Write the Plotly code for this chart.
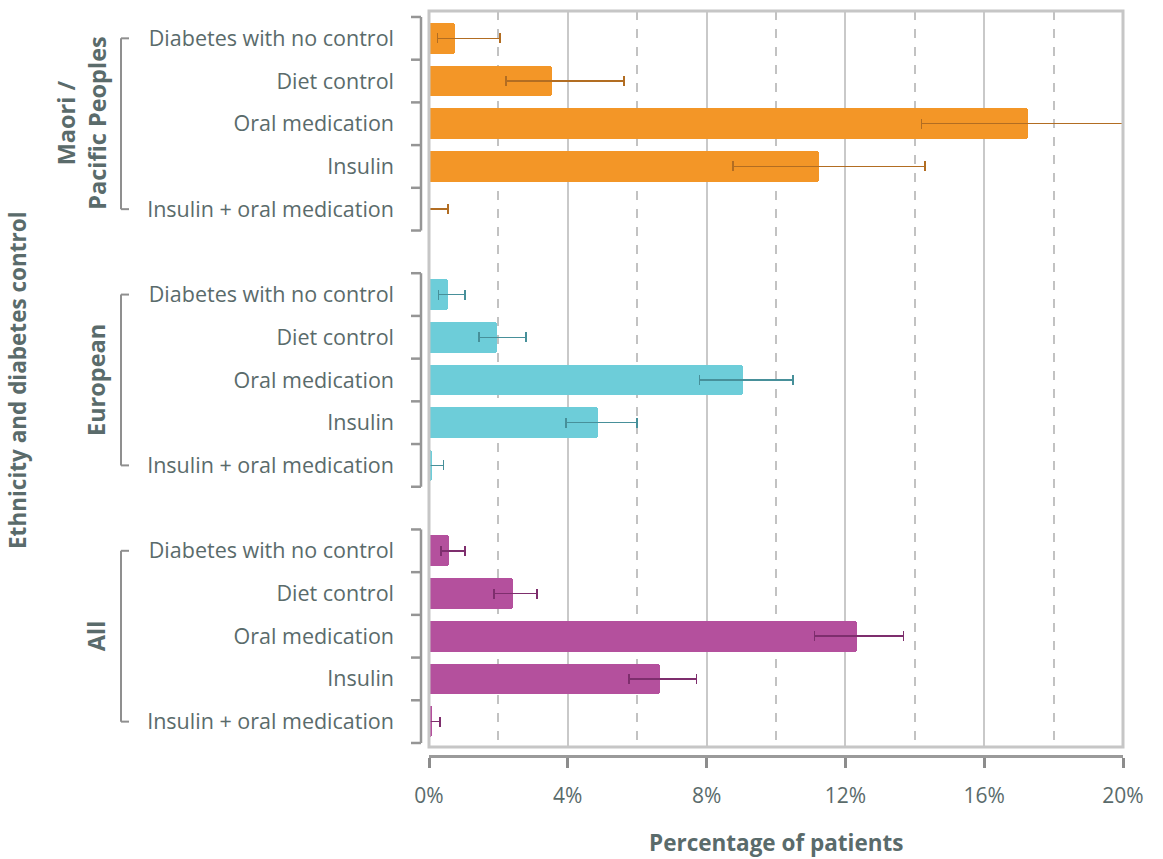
import plotly.graph_objects as go

# Diabetes control categories (top to bottom inside each group)
categories = ["Diabetes with no control", "Diet control", "Oral medication",
              "Insulin", "Insulin + oral medication"]
groups = ["Maori /<br>Pacific Peoples", "European", "All"]

# Percentage of patients, with lower / upper confidence limits
maori_val = [0.75, 3.54, 17.26, 11.24, 0.0]
maori_lo = [0.25, 2.22, 14.2, 8.76, 0.0]
maori_hi = [2.05, 5.62, 20.05, 14.3, 0.55]

european_val = [0.55, 1.96, 9.05, 4.86, 0.09]
european_lo = [0.27, 1.44, 7.8, 3.95, 0.02]
european_hi = [1.04, 2.8, 10.49, 5.99, 0.42]

all_val = [0.58, 2.42, 12.32, 6.65, 0.08]
all_lo = [0.35, 1.87, 11.11, 5.76, 0.02]
all_hi = [1.04, 3.11, 13.67, 7.71, 0.32]

x_ticks = [0, 4, 8, 12, 16, 20]
x_ticktext = ["0%", "4%", "8%", "12%", "16%", "20%"]

series = [
    (maori_val, maori_lo, maori_hi, "#F39627", "#B26D22"),
    (european_val, european_lo, european_hi, "#6DCDD9", "#47909A"),
    (all_val, all_lo, all_hi, "#B4509D", "#7E2E6D"),
]

TEXT = "#5A6B6B"
FONT = "Open Sans"
N_SLOTS = 17          # 3 groups of 5 rows plus a blank row between groups
STEP = 6
Y_TOP, Y_BOT = -0.64, 16.594   # a little padding inside the frame

# plot geometry (pixels)
W, H = 1163, 859
L, R, T, B = 429, 40, 11, 103
AXIS_GAP = 9          # x axis sits a little below the plot frame
PH = H - T - B
y_dom0 = AXIS_GAP / PH


def px_x(px):
    return (px - L) / (W - L - R)


def slot_y(s):
    # paper y for a (fractional) row slot on the reversed numeric y axis
    return y_dom0 + (1 - y_dom0) * (Y_BOT - s) / (Y_BOT - Y_TOP)


fig = go.Figure()

tickvals, ticktext = [], []
for g, (vals, lo, hi, col, ecol) in enumerate(series):
    ys = [g * STEP + i for i in range(len(categories))]
    tickvals += ys
    ticktext += categories
    fig.add_trace(go.Bar(
        x=vals, y=ys, orientation="h", width=0.72,
        marker=dict(color=col, line=dict(width=0), cornerradius=3),
        error_x=dict(type="data", symmetric=False,
                     array=[h - v for h, v in zip(hi, vals)],
                     arrayminus=[v - l for v, l in zip(vals, lo)],
                     color=ecol, thickness=1.5, width=5),
        showlegend=False, hoverinfo="x+y",
    ))

shapes = []
# plot frame
shapes.append(dict(type="rect", xref="x domain", yref="y domain",
                   x0=0, x1=1, y0=0, y1=1, line=dict(color="#C6C6C6", width=3),
                   layer="above"))

axis_col = "#959595"
for g in range(len(groups)):
    top, bot = g * STEP - 0.5, g * STEP + len(categories) - 0.5
    # per-group y axis segment with ticks between rows
    shapes.append(dict(type="line", xref="paper", yref="paper",
                       x0=px_x(421), x1=px_x(421), y0=slot_y(top), y1=slot_y(bot),
                       line=dict(color=axis_col, width=2.5)))
    for k in range(len(categories) + 1):
        yb = slot_y(top + k)
        shapes.append(dict(type="line", xref="paper", yref="paper",
                           x0=px_x(411), x1=px_x(421), y0=yb, y1=yb,
                           line=dict(color=axis_col, width=2.5)))
    # group bracket
    c0, c1 = g * STEP, g * STEP + len(categories) - 1
    bx, arm = px_x(121), px_x(129)
    shapes.append(dict(type="line", xref="paper", yref="paper",
                       x0=bx, x1=bx, y0=slot_y(c0), y1=slot_y(c1),
                       line=dict(color="#8F8F8F", width=2)))
    for c in (c0, c1):
        shapes.append(dict(type="line", xref="paper", yref="paper",
                           x0=bx, x1=arm, y0=slot_y(c), y1=slot_y(c),
                           line=dict(color="#8F8F8F", width=2)))

annotations = []
group_x = [82, 96, 96]
for g, name in enumerate(groups):
    annotations.append(dict(
        text=f"<b>{name}</b>", xref="paper", yref="paper",
        x=px_x(group_x[g]), y=slot_y(g * STEP + 2), xanchor="center", yanchor="middle",
        textangle=-90, showarrow=False, font=dict(family=FONT, size=23.5, color=TEXT)))

annotations.append(dict(
    text="<b>Ethnicity and diabetes control</b>", xref="paper", yref="paper",
    x=px_x(18), y=slot_y(8), xanchor="center", yanchor="middle", textangle=-90,
    showarrow=False, font=dict(family=FONT, size=22.5, color=TEXT)))

annotations.append(dict(
    text="<b>Percentage of patients</b>", xref="paper", yref="paper",
    x=0.5, y=-(843 - (H - B)) / PH, xanchor="center", yanchor="middle",
    showarrow=False, font=dict(family=FONT, size=22.5, color=TEXT)))

fig.update_layout(
    width=W, height=H,
    margin=dict(l=L, r=R, t=T, b=B, pad=0),
    paper_bgcolor="white", plot_bgcolor="white",
    bargap=0, barmode="overlay",
    shapes=shapes, annotations=annotations,
    font=dict(family=FONT, color=TEXT),
    xaxis=dict(
        range=[0, 20], tickvals=x_ticks, ticktext=x_ticktext,
        anchor="free", position=0,
        showline=True, linecolor="#9A9A9A", linewidth=3,
        ticks="outside", ticklen=10, tickwidth=2.5, tickcolor="#8C8C8C",
        tickfont=dict(family=FONT, size=21, color=TEXT),
        ticklabelstandoff=10,
        showgrid=True, gridcolor="#C9C9C9", gridwidth=2,
        minor=dict(dtick=2, tick0=0, showgrid=True, griddash="dash",
                   gridcolor="#C2C2C2", gridwidth=1.5, ticks=""),
        zeroline=False, fixedrange=True,
    ),
    yaxis=dict(
        domain=[y_dom0, 1], range=[Y_BOT, Y_TOP],
        tickvals=tickvals, ticktext=ticktext,
        tickfont=dict(family=FONT, size=21.5, color=TEXT),
        ticks="", ticklabelstandoff=34,
        showgrid=False, zeroline=False, showline=False, fixedrange=True,
    ),
)

fig.write_html("out.html")
